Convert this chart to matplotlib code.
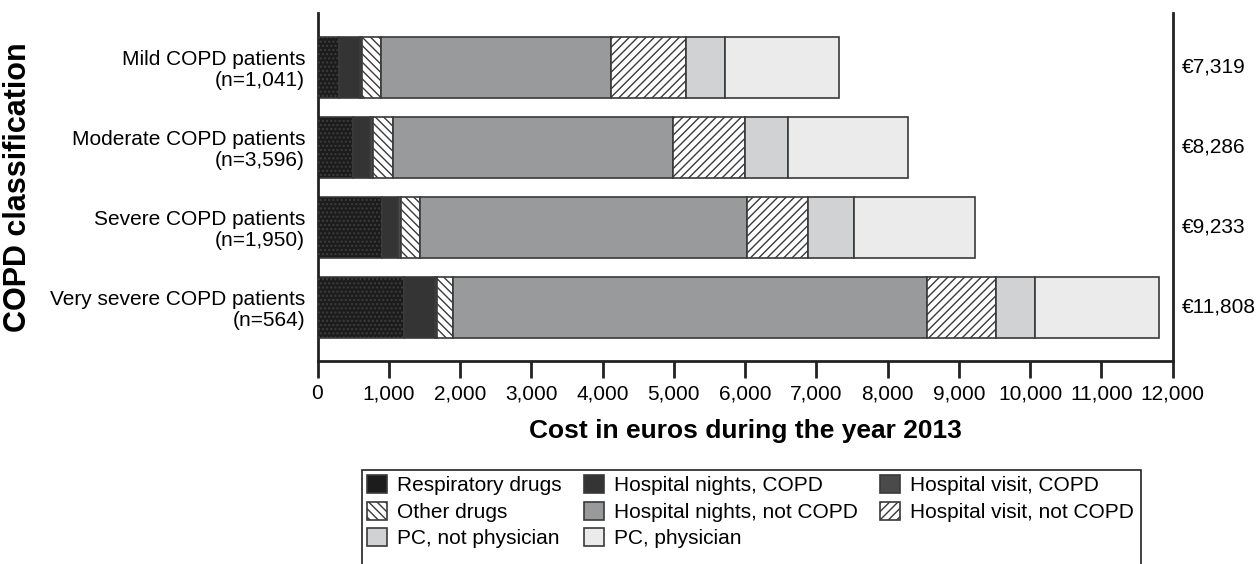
import numpy as np
import matplotlib
matplotlib.use('Agg')
import matplotlib.pyplot as plt
import matplotlib.patches as mpatches

plt.rcParams['font.family'] = ['Liberation Sans', 'DejaVu Sans']
plt.rcParams['hatch.linewidth'] = 1.0

# Data (euros per patient, 2013)
categories = ['Mild COPD patients\n(n=1,041)',
              'Moderate COPD patients\n(n=3,596)',
              'Severe COPD patients\n(n=1,950)',
              'Very severe COPD patients\n(n=564)']
totals = [7319, 8286, 9233, 11808]

resp_drugs = [306, 502, 900, 1214]
hosp_nights_copd = [290, 235, 234, 435]
hosp_visit_copd = [24, 37, 38, 30]
other_drugs = [271, 290, 267, 218]
hosp_nights_other = [3228, 3930, 4593, 6661]
hosp_visit_other = [1053, 1010, 857, 960]
pc_not_physician = [547, 604, 645, 552]
pc_physician = [1600, 1678, 1699, 1738]

components = [
    ('Respiratory drugs', resp_drugs, '#1c1c1c', None),
    ('Hospital nights, COPD', hosp_nights_copd, '#343434', None),
    ('Hospital visit, COPD', hosp_visit_copd, '#4a4a4a', None),
    ('Other drugs', other_drugs, 'white', '\\\\\\\\'),
    ('Hospital nights, not COPD', hosp_nights_other, '#999a9c', None),
    ('Hospital visit, not COPD', hosp_visit_other, 'white', '////'),
    ('PC, not physician', pc_not_physician, '#d1d2d4', None),
    ('PC, physician', pc_physician, '#ebebeb', None),
]

W, H = 1258, 564
fig = plt.figure(figsize=(W / 100, H / 100), dpi=100)
ax = fig.add_axes([317.5 / W, 1 - 360.7 / H, 855 / W, 347.7 / H])

y = np.arange(len(categories))
left = np.zeros(len(categories))
handles = []
for name, vals, fc, hatch in components:
    bars = ax.barh(y, vals, left=left, height=0.76, color=fc,
                   edgecolor='#3a3a3a', linewidth=1.2, hatch=hatch,
                   label=name, zorder=2)
    if name == 'Respiratory drugs':
        # faint dotted texture
        ax.barh(y, vals, left=left, height=0.76, fill=False,
                edgecolor='#3d3d3d', linewidth=0, hatch='....', zorder=3)
    handles.append(bars)
    left += np.array(vals)

ax.set_xlim(0, 12000)
ax.set_ylim(3.67, -0.68)
ax.set_xticks(np.arange(0, 12001, 1000))
ax.set_xticklabels([f'{v:,}' for v in range(0, 12001, 1000)])
ax.set_yticks(y)
ax.set_yticklabels(categories, linespacing=1.1)
ax.tick_params(axis='x', length=12, width=2, labelsize=15, pad=5, color='#222222')
ax.tick_params(axis='y', length=0, labelsize=15, pad=9)

for s in ['left', 'right', 'bottom']:
    ax.spines[s].set_linewidth(2)
    ax.spines[s].set_color('#222222')
ax.spines['top'].set_visible(False)

ax.set_xlabel('Cost in euros during the year 2013', fontsize=19,
              fontweight='bold', labelpad=11)
ax.set_ylabel('COPD classification', fontsize=22, fontweight='bold')
ax.yaxis.set_label_coords((33 - 317.5) / 855, 0.5)

for i, t in enumerate(totals):
    ax.annotate(f'€{t:,}', xy=(1, i), xycoords=('axes fraction', 'data'),
                xytext=(9, 0), textcoords='offset pixels',
                ha='left', va='center', fontsize=15)

# legend (row-major order across 3 columns)
order = [0, 3, 6, 1, 4, 7, 2, 5]
leg = fig.legend([handles[k] for k in order],
                 [components[k][0] for k in order],
                 loc='upper left', ncol=3,
                 bbox_to_anchor=(362 / W, 1 - 470 / H),
                 bbox_transform=fig.transFigure, frameon=False,
                 fontsize=15, handlelength=0.95, handleheight=0.95,
                 handletextpad=0.5, columnspacing=1.05, labelspacing=0.3,
                 borderpad=0.25, borderaxespad=0)
fig.canvas.draw()
bb = leg.get_window_extent()
x0, x1 = 362 / W, (bb.x1 + 2) / W
fig.patches.append(mpatches.Rectangle((x0, -0.05), x1 - x0, 1 - 470 / H + 0.05,
                                      transform=fig.transFigure, fill=False,
                                      edgecolor='#222222', linewidth=1.2))

fig.savefig('out.png', dpi=100)
